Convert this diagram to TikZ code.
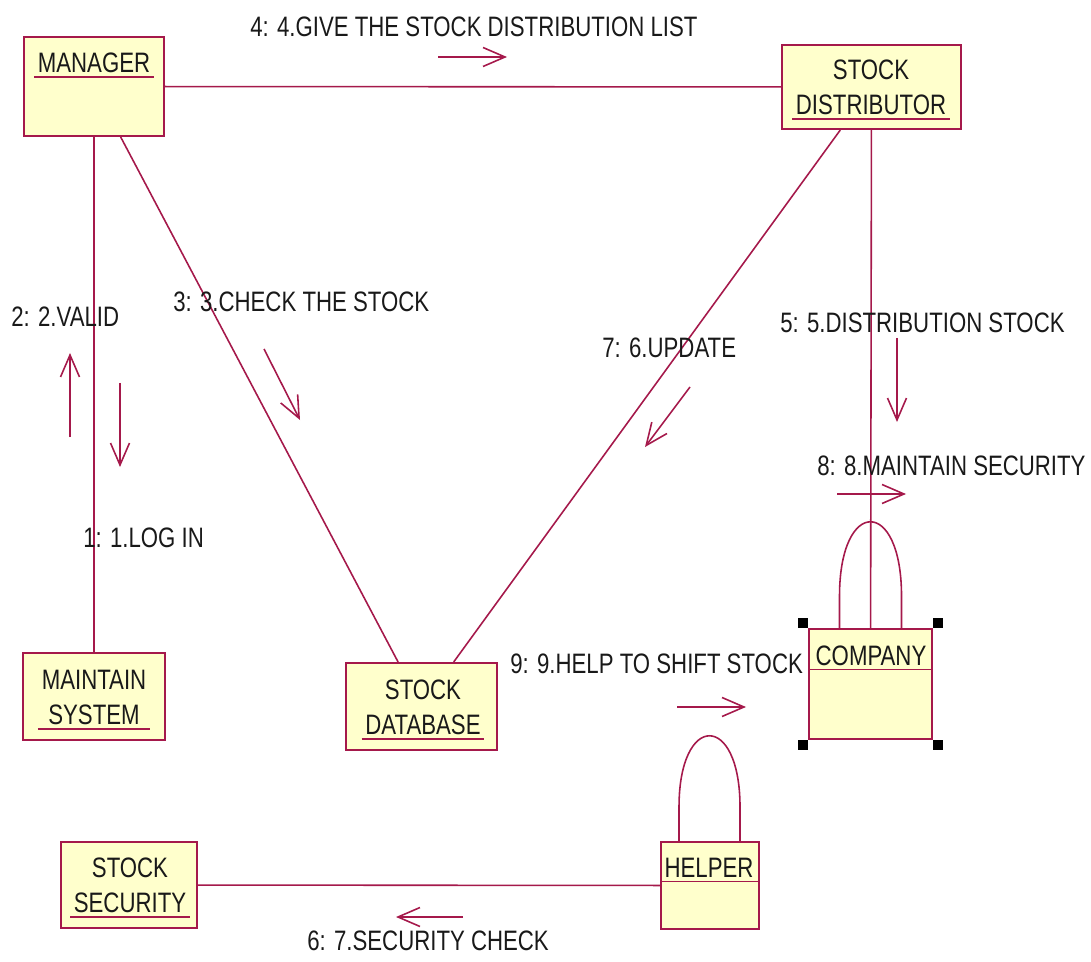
\documentclass[tikz,border=0pt]{standalone}
\usepackage{fontspec}
\setmainfont{Liberation Sans}[FakeStretch=0.79]
\usetikzlibrary{arrows.meta,fit}
\definecolor{umlred}{RGB}{165,25,75}
\definecolor{umlfill}{RGB}{255,255,204}

\begin{document}
\begin{tikzpicture}[x=0.02cm,y=-0.02cm,
			every node/.style={font=\fontsize{16}{20}\selectfont},
			obj/.style={draw=umlred,fill=umlfill,line width=1.1pt,inner sep=0pt},
			objname/.style={align=center,inner xsep=0.07cm,inner ysep=0.08cm,text=black!90},
			link/.style={draw=umlred,line width=0.9pt},
			msg/.style={draw=umlred,line width=0.9pt,-{Straight Barb[length=0.44cm,width=0.38cm]}},
			msgtext/.style={anchor=base west,inner sep=0pt,text=black!90},
			handle/.style={fill=black,minimum size=0.2cm,inner sep=0pt}]
			\useasboundingbox (0,0) rectangle (1091,962);

			\node[obj,fit={(24,37) (164,136)}] (manager) {};
			\node[obj,fit={(782,45) (961,129)}] (distributor) {};
			\node[obj,fit={(23,653) (165,740)}] (maintain) {};
			\node[obj,fit={(346,663) (497,750)}] (stockdb) {};
			\node[obj,fit={(809,629) (932,739)}] (company) {};
			\node[obj,fit={(661,842) (759,929)}] (helper) {};
			\node[obj,fit={(61,842) (197,928)}] (security) {};

			\node[objname,anchor=south] (managerlbl) at (94,77) {MANAGER};
			\node[objname,anchor=south] (distributorlbl) at (871,119) {STOCK\\DISTRIBUTOR};
			\node[objname,anchor=south] (maintainlbl) at (94,729) {MAINTAIN\\SYSTEM};
			\node[objname,anchor=south] (stockdblbl) at (423,739) {STOCK\\DATABASE};
			\node[objname,anchor=south] (securitylbl) at (130,917) {STOCK\\SECURITY};
			\node[objname,anchor=base] (companylbl) at (871,665) {COMPANY};
			\node[objname,anchor=base] (helperlbl) at (709,877) {HELPER};

			\draw[link] (managerlbl.south west) -- (managerlbl.south east);
			\draw[link] (distributorlbl.south west) -- (distributorlbl.south east);
			\draw[link] (maintainlbl.south west) -- (maintainlbl.south east);
			\draw[link] (stockdblbl.south west) -- (stockdblbl.south east);
			\draw[link] (securitylbl.south west) -- (securitylbl.south east);
			\draw[link] (company.west |- companylbl.south) -- (company.east |- companylbl.south);
			\draw[link] (helper.west |- helperlbl.south) -- (helper.east |- helperlbl.south);

			\draw[link] (manager) -- (distributor);
			\draw[link] (manager) -- (maintain);
			\draw[link] (manager) -- (stockdb);
			\draw[link] (distributor) -- (stockdb);
			\draw[link] (distributor) -- (company);
			\draw[link] (helper) -- (security);
			\draw[link] ([xshift=-0.62cm]company.north) -- ++(0,-32)
				.. controls +(0,-99) and +(0,-99) .. ++(62,0) -- ++(0,32);
			\draw[link] ([xshift=-0.62cm]helper.north) -- ++(0,-34)
				.. controls +(0,-95) and +(0,-95) .. ++(61,0) -- ++(0,34);

			\node[msgtext] (m4) at (250,37) {4: 4.GIVE THE STOCK DISTRIBUTION LIST};
			\node[msgtext] (m2) at (11,327) {2: 2.VALID};
			\node[msgtext] (m1) at (83,547) {1: 1.LOG IN};
			\node[msgtext] (m3) at (173,312) {3: 3.CHECK THE STOCK};
			\node[msgtext] (m7) at (602,358) {7: 6.UPDATE};
			\node[msgtext] (m5) at (780,333) {5: 5.DISTRIBUTION STOCK};
			\node[msgtext] (m8) at (817,475) {8: 8.MAINTAIN SECURITY};
			\node[msgtext] (m9) at (510,673) {9: 9.HELP TO SHIFT STOCK};
			\node[msgtext] (m6) at (307,950) {6: 7.SECURITY CHECK};

			\draw[msg] (438,57) -- (507,57);
			\draw[msg] (70,437) -- (70,353);
			\draw[msg] (120,383) -- (120,467);
			\draw[msg] (264,349) -- (300,420);
			\draw[msg] (690,387) -- (645,447);
			\draw[msg] (897,338) -- (897,422);
			\draw[msg] (837,494) -- (906,494);
			\draw[msg] (677,707) -- (746,707);
			\draw[msg] (463,917) -- (396,917);

			\node[handle,anchor=south east] (hnw) at (company.north west) {};
			\node[handle,anchor=south west] (hne) at (company.north east) {};
			\node[handle,anchor=north east] (hsw) at (company.south west) {};
			\node[handle,anchor=north west] (hse) at (company.south east) {};
\end{tikzpicture}
\end{document}
